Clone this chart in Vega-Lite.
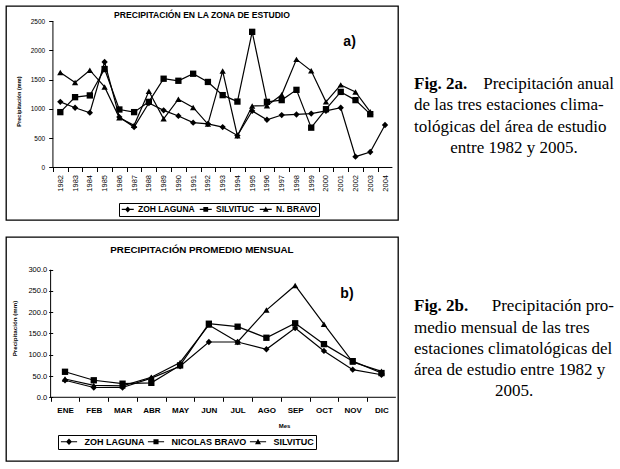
{
  "$schema": "https://vega.github.io/schema/vega-lite/v6.json",
  "background": "white",
  "padding": {"left": 5, "top": 5, "right": 0, "bottom": 0},
  "config": {
    "font": "Liberation Sans",
    "view": {"stroke": null},
    "axis": {"domain": false, "grid": false, "tickColor": "black", "tickWidth": 1, "labelColor": "black", "titleColor": "black", "labelFont": "Liberation Sans", "titleFont": "Liberation Sans", "labelOverlap": false, "labelFlush": false, "labelBound": false},
    "legend": {"orient": "none", "direction": "horizontal", "strokeColor": "black", "fillColor": "white", "labelFont": "Liberation Sans", "labelFontWeight": "bold", "labelColor": "black", "symbolFillColor": "black", "symbolStrokeWidth": 0}
  },
  "datasets": {
    "anual": [
      {"estacion": "ZOH LAGUNA", "anio": 1982, "pp": 1120}, {"estacion": "ZOH LAGUNA", "anio": 1983, "pp": 1020}, {"estacion": "ZOH LAGUNA", "anio": 1984, "pp": 935}, {"estacion": "ZOH LAGUNA", "anio": 1985, "pp": 1800}, {"estacion": "ZOH LAGUNA", "anio": 1986, "pp": 860}, {"estacion": "ZOH LAGUNA", "anio": 1987, "pp": 690}, {"estacion": "ZOH LAGUNA", "anio": 1988, "pp": 1100}, {"estacion": "ZOH LAGUNA", "anio": 1989, "pp": 975}, {"estacion": "ZOH LAGUNA", "anio": 1990, "pp": 880}, {"estacion": "ZOH LAGUNA", "anio": 1991, "pp": 765}, {"estacion": "ZOH LAGUNA", "anio": 1992, "pp": 745}, {"estacion": "ZOH LAGUNA", "anio": 1993, "pp": 690}, {"estacion": "ZOH LAGUNA", "anio": 1994, "pp": 545}, {"estacion": "ZOH LAGUNA", "anio": 1995, "pp": 965}, {"estacion": "ZOH LAGUNA", "anio": 1996, "pp": 815}, {"estacion": "ZOH LAGUNA", "anio": 1997, "pp": 895}, {"estacion": "ZOH LAGUNA", "anio": 1998, "pp": 905}, {"estacion": "ZOH LAGUNA", "anio": 1999, "pp": 920}, {"estacion": "ZOH LAGUNA", "anio": 2000, "pp": 965}, {"estacion": "ZOH LAGUNA", "anio": 2001, "pp": 1020}, {"estacion": "ZOH LAGUNA", "anio": 2002, "pp": 185}, {"estacion": "ZOH LAGUNA", "anio": 2003, "pp": 265}, {"estacion": "ZOH LAGUNA", "anio": 2004, "pp": 725},
      {"estacion": "SILVITUC", "anio": 1982, "pp": 945}, {"estacion": "SILVITUC", "anio": 1983, "pp": 1200}, {"estacion": "SILVITUC", "anio": 1984, "pp": 1230}, {"estacion": "SILVITUC", "anio": 1985, "pp": 1680}, {"estacion": "SILVITUC", "anio": 1986, "pp": 990}, {"estacion": "SILVITUC", "anio": 1987, "pp": 945}, {"estacion": "SILVITUC", "anio": 1988, "pp": 1120}, {"estacion": "SILVITUC", "anio": 1989, "pp": 1515}, {"estacion": "SILVITUC", "anio": 1990, "pp": 1480}, {"estacion": "SILVITUC", "anio": 1991, "pp": 1600}, {"estacion": "SILVITUC", "anio": 1992, "pp": 1460}, {"estacion": "SILVITUC", "anio": 1993, "pp": 1235}, {"estacion": "SILVITUC", "anio": 1994, "pp": 1125}, {"estacion": "SILVITUC", "anio": 1995, "pp": 2315}, {"estacion": "SILVITUC", "anio": 1996, "pp": 1120}, {"estacion": "SILVITUC", "anio": 1997, "pp": 1150}, {"estacion": "SILVITUC", "anio": 1998, "pp": 1325}, {"estacion": "SILVITUC", "anio": 1999, "pp": 680}, {"estacion": "SILVITUC", "anio": 2000, "pp": 995}, {"estacion": "SILVITUC", "anio": 2001, "pp": 1290}, {"estacion": "SILVITUC", "anio": 2002, "pp": 1150}, {"estacion": "SILVITUC", "anio": 2003, "pp": 910},
      {"estacion": "N. BRAVO", "anio": 1982, "pp": 1620}, {"estacion": "N. BRAVO", "anio": 1983, "pp": 1450}, {"estacion": "N. BRAVO", "anio": 1984, "pp": 1660}, {"estacion": "N. BRAVO", "anio": 1985, "pp": 1375}, {"estacion": "N. BRAVO", "anio": 1986, "pp": 850}, {"estacion": "N. BRAVO", "anio": 1987, "pp": 720}, {"estacion": "N. BRAVO", "anio": 1988, "pp": 1300}, {"estacion": "N. BRAVO", "anio": 1989, "pp": 830}, {"estacion": "N. BRAVO", "anio": 1990, "pp": 1165}, {"estacion": "N. BRAVO", "anio": 1991, "pp": 1025}, {"estacion": "N. BRAVO", "anio": 1992, "pp": 740}, {"estacion": "N. BRAVO", "anio": 1993, "pp": 1645}, {"estacion": "N. BRAVO", "anio": 1994, "pp": 540}, {"estacion": "N. BRAVO", "anio": 1995, "pp": 1050}, {"estacion": "N. BRAVO", "anio": 1996, "pp": 1055}, {"estacion": "N. BRAVO", "anio": 1997, "pp": 1240}, {"estacion": "N. BRAVO", "anio": 1998, "pp": 1845}, {"estacion": "N. BRAVO", "anio": 1999, "pp": 1650}, {"estacion": "N. BRAVO", "anio": 2000, "pp": 1120}, {"estacion": "N. BRAVO", "anio": 2001, "pp": 1410}, {"estacion": "N. BRAVO", "anio": 2002, "pp": 1290}, {"estacion": "N. BRAVO", "anio": 2003, "pp": 950}
    ],
    "mensual": [
      {"estacion": "ZOH LAGUNA", "mes": "ENE", "n": 1, "pp": 40}, {"estacion": "ZOH LAGUNA", "mes": "FEB", "n": 2, "pp": 23}, {"estacion": "ZOH LAGUNA", "mes": "MAR", "n": 3, "pp": 23}, {"estacion": "ZOH LAGUNA", "mes": "ABR", "n": 4, "pp": 45}, {"estacion": "ZOH LAGUNA", "mes": "MAY", "n": 5, "pp": 73}, {"estacion": "ZOH LAGUNA", "mes": "JUN", "n": 6, "pp": 130}, {"estacion": "ZOH LAGUNA", "mes": "JUL", "n": 7, "pp": 130}, {"estacion": "ZOH LAGUNA", "mes": "AGO", "n": 8, "pp": 113}, {"estacion": "ZOH LAGUNA", "mes": "SEP", "n": 9, "pp": 163}, {"estacion": "ZOH LAGUNA", "mes": "OCT", "n": 10, "pp": 109}, {"estacion": "ZOH LAGUNA", "mes": "NOV", "n": 11, "pp": 65}, {"estacion": "ZOH LAGUNA", "mes": "DIC", "n": 12, "pp": 53},
      {"estacion": "NICOLAS BRAVO", "mes": "ENE", "n": 1, "pp": 60}, {"estacion": "NICOLAS BRAVO", "mes": "FEB", "n": 2, "pp": 40}, {"estacion": "NICOLAS BRAVO", "mes": "MAR", "n": 3, "pp": 32}, {"estacion": "NICOLAS BRAVO", "mes": "ABR", "n": 4, "pp": 34}, {"estacion": "NICOLAS BRAVO", "mes": "MAY", "n": 5, "pp": 75}, {"estacion": "NICOLAS BRAVO", "mes": "JUN", "n": 6, "pp": 173}, {"estacion": "NICOLAS BRAVO", "mes": "JUL", "n": 7, "pp": 166}, {"estacion": "NICOLAS BRAVO", "mes": "AGO", "n": 8, "pp": 140}, {"estacion": "NICOLAS BRAVO", "mes": "SEP", "n": 9, "pp": 174}, {"estacion": "NICOLAS BRAVO", "mes": "OCT", "n": 10, "pp": 125}, {"estacion": "NICOLAS BRAVO", "mes": "NOV", "n": 11, "pp": 85}, {"estacion": "NICOLAS BRAVO", "mes": "DIC", "n": 12, "pp": 57},
      {"estacion": "SILVITUC", "mes": "ENE", "n": 1, "pp": 43}, {"estacion": "SILVITUC", "mes": "FEB", "n": 2, "pp": 28}, {"estacion": "SILVITUC", "mes": "MAR", "n": 3, "pp": 27}, {"estacion": "SILVITUC", "mes": "ABR", "n": 4, "pp": 47}, {"estacion": "SILVITUC", "mes": "MAY", "n": 5, "pp": 82}, {"estacion": "SILVITUC", "mes": "JUN", "n": 6, "pp": 170}, {"estacion": "SILVITUC", "mes": "JUL", "n": 7, "pp": 130}, {"estacion": "SILVITUC", "mes": "AGO", "n": 8, "pp": 205}, {"estacion": "SILVITUC", "mes": "SEP", "n": 9, "pp": 263}, {"estacion": "SILVITUC", "mes": "OCT", "n": 10, "pp": 172}, {"estacion": "SILVITUC", "mes": "NOV", "n": 11, "pp": 83}, {"estacion": "SILVITUC", "mes": "DIC", "n": 12, "pp": 61}
    ]
  },
  "spacing": 15,
  "vconcat": [
    {
      "spacing": 15,
      "hconcat": [
        {
          "width": 392,
          "height": 214,
          "view": {"stroke": "black", "strokeWidth": 1.3},
          "resolve": {"scale": {"shape": "independent"}},
          "layer": [
            {
              "data": {"name": "anual"},
              "mark": {"type": "line", "color": "black", "strokeWidth": 1.2},
              "encoding": {
                "x": {"field": "anio", "type": "quantitative", "scale": {"domain": [1978.32, 2004.88], "nice": false, "zero": false},
                  "axis": {"values": [1982, 1983, 1984, 1985, 1986, 1987, 1988, 1989, 1990, 1991, 1992, 1993, 1994, 1995, 1996, 1997, 1998, 1999, 2000, 2001, 2002, 2003, 2004], "tickCount": 40, "format": "d", "labelAngle": 270, "labelOverlap": false, "offset": -52.5, "tickOffset": -7.38, "labelOffset": 7.38, "tickSize": 4, "labelPadding": 3, "labelFontSize": 7.5, "title": null}},
                "y": {"field": "pp", "type": "quantitative", "scale": {"domain": [-896, 2756], "nice": false, "zero": false},
                  "axis": {"values": [0, 500, 1000, 1500, 2000, 2500], "tickCount": 20, "format": "d", "labelOverlap": false, "offset": -46.7, "tickSize": 4, "labelPadding": 4, "labelFontSize": 6.5, "title": "Precipitación (mm)", "titleX": -34.4, "titleY": 95, "titleAngle": 270, "titleBaseline": "middle", "titleAlign": "center", "titleFontSize": 5.6, "titleFontWeight": "bold"}},
                "detail": {"field": "estacion"}
              }
            },
            {
              "data": {"values": [{"eje": "y"}]},
              "mark": {"type": "rule", "color": "black", "strokeWidth": 1},
              "encoding": {"x": {"datum": 1981.5, "type": "quantitative", "scale": {"domain": [1978.32, 2004.88], "nice": false, "zero": false}}, "y": {"datum": 0, "type": "quantitative", "scale": {"domain": [-896, 2756], "nice": false, "zero": false}}, "y2": {"datum": 2500}}
            },
            {
              "data": {"values": [{"eje": "x"}]},
              "mark": {"type": "rule", "color": "black", "strokeWidth": 1},
              "encoding": {"x": {"datum": 1981.5, "type": "quantitative", "scale": {"domain": [1978.32, 2004.88], "nice": false, "zero": false}}, "x2": {"datum": 2004.5}, "y": {"datum": 0, "type": "quantitative", "scale": {"domain": [-896, 2756], "nice": false, "zero": false}}}
            },
            {
              "data": {"name": "anual"},
              "mark": {"type": "point", "filled": true, "color": "black", "opacity": 1, "size": 40},
              "encoding": {
                "x": {"field": "anio", "type": "quantitative", "scale": {"domain": [1978.32, 2004.88], "nice": false, "zero": false}},
                "y": {"field": "pp", "type": "quantitative", "scale": {"domain": [-896, 2756], "nice": false, "zero": false}},
                "shape": {"field": "estacion", "scale": {"domain": ["ZOH LAGUNA", "SILVITUC", "N. BRAVO"], "range": ["diamond", "square", "triangle-up"]}, "legend": null}
              }
            },
            {
              "data": {"name": "anual"},
              "transform": [{"filter": "false"}],
              "mark": {"type": "point", "filled": true, "color": "black", "opacity": 1},
              "encoding": {
                "x": {"field": "anio", "type": "quantitative", "scale": {"domain": [1978.32, 2004.88], "nice": false, "zero": false}},
                "y": {"field": "pp", "type": "quantitative", "scale": {"domain": [-896, 2756], "nice": false, "zero": false}},
                "shape": {"field": "estacion", "scale": {"domain": ["ZOH LAGUNA", "SILVITUC", "N. BRAVO"], "range": ["M-2,-0.17H2V0.17H-2ZM0,-1L0.9,0L0,1L-0.9,0Z", "M-2,-0.17H2V0.17H-2ZM-0.8,-0.8H0.8V0.8H-0.8Z", "M-2,-0.17H2V0.17H-2ZM0,-0.95L0.95,0.8H-0.95Z"]},
                  "legend": {"title": null, "orient": "none", "legendX": 113, "legendY": 197, "direction": "horizontal", "labelFontSize": 8.5, "symbolSize": 36, "symbolOffset": 2.5, "labelOffset": 6, "columnPadding": 4, "padding": 2, "strokeColor": "black"}}
              }
            },
            {
              "data": {"values": [{"rotulo": "PRECIPITACIÓN EN LA ZONA DE ESTUDIO"}]},
              "mark": {"type": "text", "fontSize": 8.6, "fontWeight": "bold", "font": "Liberation Sans", "color": "black", "baseline": "middle"},
              "encoding": {"text": {"field": "rotulo"}, "x": {"datum": 1991.6, "type": "quantitative", "scale": {"domain": [1978.32, 2004.88], "nice": false, "zero": false}}, "y": {"datum": 2594, "type": "quantitative", "scale": {"domain": [-896, 2756], "nice": false, "zero": false}}}
            },
            {
              "data": {"values": [{"rotulo": "a)"}]},
              "mark": {"type": "text", "fontSize": 14, "fontWeight": "bold", "font": "Liberation Sans", "color": "black", "baseline": "middle"},
              "encoding": {"text": {"field": "rotulo"}, "x": {"datum": 2001.6, "type": "quantitative", "scale": {"domain": [1978.32, 2004.88], "nice": false, "zero": false}}, "y": {"datum": 2140, "type": "quantitative", "scale": {"domain": [-896, 2756], "nice": false, "zero": false}}}
            }
          ]
        },
        {
          "width": 200,
          "height": 214,
          "data": {"values": [
            {"linea": 1, "parte": "etiqueta", "texto": "Fig. 2a."},
            {"linea": 1, "parte": "texto", "texto": "Precipitación anual"},
            {"linea": 2, "parte": "texto", "texto": "de las tres estaciones clima-"},
            {"linea": 3, "parte": "texto", "texto": "tológicas del área de estudio"},
            {"linea": 4, "parte": "texto", "texto": "entre 1982 y 2005."}
          ]},
          "encoding": {
            "y": {"field": "linea", "type": "quantitative", "scale": {"domain": [-2.711, 7.431], "reverse": true, "nice": false, "zero": false}, "axis": null},
            "text": {"field": "texto"}
          },
          "layer": [
            {"transform": [{"filter": "datum.parte == 'etiqueta'"}], "mark": {"type": "text", "align": "left", "baseline": "middle", "font": "Liberation Serif", "fontSize": 17, "fontWeight": "bold", "color": "black"}, "encoding": {"x": {"datum": 0, "type": "quantitative", "scale": {"domain": [0, 1], "nice": false, "zero": false}, "axis": null}}},
            {"transform": [{"filter": "datum.parte == 'texto' && datum.linea == 1"}], "mark": {"type": "text", "align": "right", "baseline": "middle", "font": "Liberation Serif", "fontSize": 17, "color": "black"}, "encoding": {"x": {"datum": 1, "type": "quantitative", "scale": {"domain": [0, 1], "nice": false, "zero": false}, "axis": null}}},
            {"transform": [{"filter": "datum.linea > 1 && datum.linea < 4"}], "mark": {"type": "text", "align": "left", "baseline": "middle", "font": "Liberation Serif", "fontSize": 17, "color": "black"}, "encoding": {"x": {"datum": 0, "type": "quantitative", "scale": {"domain": [0, 1], "nice": false, "zero": false}, "axis": null}}},
            {"transform": [{"filter": "datum.linea == 4"}], "mark": {"type": "text", "align": "center", "baseline": "middle", "font": "Liberation Serif", "fontSize": 17, "color": "black"}, "encoding": {"x": {"datum": 0.5, "type": "quantitative", "scale": {"domain": [0, 1], "nice": false, "zero": false}, "axis": null}}}
          ]
        }
      ]
    },
    {
      "spacing": 15,
      "hconcat": [
        {
          "width": 392,
          "height": 224,
          "view": {"stroke": "black", "strokeWidth": 1.3},
          "resolve": {"scale": {"shape": "independent"}},
          "layer": [
            {
              "data": {"name": "mensual"},
              "mark": {"type": "line", "color": "black", "strokeWidth": 1.2},
              "encoding": {
                "x": {"field": "n", "type": "quantitative", "scale": {"domain": [-1.051, 12.574], "nice": false, "zero": false},
                  "axis": {"values": [1, 2, 3, 4, 5, 6, 7, 8, 9, 10, 11, 12], "tickCount": 30, "labelExpr": "['ENE','FEB','MAR','ABR','MAY','JUN','JUL','AGO','SEP','OCT','NOV','DIC'][datum.value - 1]", "labelOverlap": false, "offset": -63.7, "tickOffset": -14.39, "labelOffset": 14.39, "tickSize": 4, "labelPadding": 5, "labelFontSize": 8, "labelFontWeight": "bold", "title": "Mes", "titleX": 278, "titleY": 27.7, "titleBaseline": "middle", "titleAlign": "center", "titleFontSize": 6, "titleFontWeight": "bold"}},
                "y": {"field": "pp", "type": "quantitative", "scale": {"domain": [-149.8, 376.9], "nice": false, "zero": false},
                  "axis": {"values": [0, 50, 100, 150, 200, 250, 300], "tickCount": 20, "format": ".1f", "labelOverlap": false, "offset": -46.7, "tickSize": 4, "labelPadding": 2, "labelFontSize": 7.5, "title": "Precipitación (mm)", "titleX": -38.4, "titleY": 91, "titleAngle": 270, "titleBaseline": "middle", "titleAlign": "center", "titleFontSize": 6.2, "titleFontWeight": "bold"}},
                "detail": {"field": "estacion"}
              }
            },
            {
              "data": {"values": [{"eje": "y"}]},
              "mark": {"type": "rule", "color": "black", "strokeWidth": 1},
              "encoding": {"x": {"datum": 0.5, "type": "quantitative", "scale": {"domain": [-1.051, 12.574], "nice": false, "zero": false}}, "y": {"datum": 0, "type": "quantitative", "scale": {"domain": [-149.8, 376.9], "nice": false, "zero": false}}, "y2": {"datum": 300}}
            },
            {
              "data": {"values": [{"eje": "x"}]},
              "mark": {"type": "rule", "color": "black", "strokeWidth": 1},
              "encoding": {"x": {"datum": 0.5, "type": "quantitative", "scale": {"domain": [-1.051, 12.574], "nice": false, "zero": false}}, "x2": {"datum": 12.5}, "y": {"datum": 0, "type": "quantitative", "scale": {"domain": [-149.8, 376.9], "nice": false, "zero": false}}}
            },
            {
              "data": {"name": "mensual"},
              "mark": {"type": "point", "filled": true, "color": "black", "opacity": 1, "size": 40},
              "encoding": {
                "x": {"field": "n", "type": "quantitative", "scale": {"domain": [-1.051, 12.574], "nice": false, "zero": false}},
                "y": {"field": "pp", "type": "quantitative", "scale": {"domain": [-149.8, 376.9], "nice": false, "zero": false}},
                "shape": {"field": "estacion", "scale": {"domain": ["ZOH LAGUNA", "NICOLAS BRAVO", "SILVITUC"], "range": ["diamond", "square", "triangle-up"]}, "legend": null}
              }
            },
            {
              "data": {"name": "mensual"},
              "transform": [{"filter": "false"}],
              "mark": {"type": "point", "filled": true, "color": "black", "opacity": 1},
              "encoding": {
                "x": {"field": "n", "type": "quantitative", "scale": {"domain": [-1.051, 12.574], "nice": false, "zero": false}},
                "y": {"field": "pp", "type": "quantitative", "scale": {"domain": [-149.8, 376.9], "nice": false, "zero": false}},
                "shape": {"field": "estacion", "scale": {"domain": ["ZOH LAGUNA", "NICOLAS BRAVO", "SILVITUC"], "range": ["M-2.7,-0.17H2.7V0.17H-2.7ZM0,-1.1L1,0L0,1.1L-1,0Z", "M-2.7,-0.17H2.7V0.17H-2.7ZM-0.85,-0.85H0.85V0.85H-0.85Z", "M-2.7,-0.17H2.7V0.17H-2.7ZM0,-1L1,0.85H-1Z"]},
                  "legend": {"title": null, "orient": "none", "legendX": 52, "legendY": 198, "direction": "horizontal", "labelFontSize": 9, "symbolSize": 36, "symbolOffset": 4.5, "labelOffset": 11, "columnPadding": 2, "padding": 2, "strokeColor": "black"}}
              }
            },
            {
              "data": {"values": [{"rotulo": "PRECIPITACIÓN PROMEDIO MENSUAL"}]},
              "mark": {"type": "text", "fontSize": 9.8, "fontWeight": "bold", "font": "Liberation Sans", "color": "black", "baseline": "middle"},
              "encoding": {"text": {"field": "rotulo"}, "x": {"datum": 5.76, "type": "quantitative", "scale": {"domain": [-1.051, 12.574], "nice": false, "zero": false}}, "y": {"datum": 346, "type": "quantitative", "scale": {"domain": [-149.8, 376.9], "nice": false, "zero": false}}}
            },
            {
              "data": {"values": [{"rotulo": "b)"}]},
              "mark": {"type": "text", "fontSize": 14, "fontWeight": "bold", "font": "Liberation Sans", "color": "black", "baseline": "middle"},
              "encoding": {"text": {"field": "rotulo"}, "x": {"datum": 10.8, "type": "quantitative", "scale": {"domain": [-1.051, 12.574], "nice": false, "zero": false}}, "y": {"datum": 243, "type": "quantitative", "scale": {"domain": [-149.8, 376.9], "nice": false, "zero": false}}}
            }
          ]
        },
        {
          "width": 200,
          "height": 224,
          "data": {"values": [
            {"linea": 1, "parte": "etiqueta", "texto": "Fig. 2b."},
            {"linea": 1, "parte": "texto", "texto": "Precipitación pro-"},
            {"linea": 2, "parte": "texto", "texto": "medio mensual de las tres"},
            {"linea": 3, "parte": "texto", "texto": "estaciones climatológicas del"},
            {"linea": 4, "parte": "texto", "texto": "área de estudio entre 1982 y"},
            {"linea": 5, "parte": "texto", "texto": "2005."}
          ]},
          "encoding": {
            "y": {"field": "linea", "type": "quantitative", "scale": {"domain": [-2.261, 8.28], "reverse": true, "nice": false, "zero": false}, "axis": null},
            "text": {"field": "texto"}
          },
          "layer": [
            {"transform": [{"filter": "datum.parte == 'etiqueta'"}], "mark": {"type": "text", "align": "left", "baseline": "middle", "font": "Liberation Serif", "fontSize": 17, "fontWeight": "bold", "color": "black"}, "encoding": {"x": {"datum": 0, "type": "quantitative", "scale": {"domain": [0, 1], "nice": false, "zero": false}, "axis": null}}},
            {"transform": [{"filter": "datum.parte == 'texto' && datum.linea == 1"}], "mark": {"type": "text", "align": "right", "baseline": "middle", "font": "Liberation Serif", "fontSize": 17, "color": "black"}, "encoding": {"x": {"datum": 1, "type": "quantitative", "scale": {"domain": [0, 1], "nice": false, "zero": false}, "axis": null}}},
            {"transform": [{"filter": "datum.linea > 1 && datum.linea < 5"}], "mark": {"type": "text", "align": "left", "baseline": "middle", "font": "Liberation Serif", "fontSize": 17, "color": "black"}, "encoding": {"x": {"datum": 0, "type": "quantitative", "scale": {"domain": [0, 1], "nice": false, "zero": false}, "axis": null}}},
            {"transform": [{"filter": "datum.linea == 5"}], "mark": {"type": "text", "align": "center", "baseline": "middle", "font": "Liberation Serif", "fontSize": 17, "color": "black"}, "encoding": {"x": {"datum": 0.5, "type": "quantitative", "scale": {"domain": [0, 1], "nice": false, "zero": false}, "axis": null}}}
          ]
        }
      ]
    }
  ]
}
